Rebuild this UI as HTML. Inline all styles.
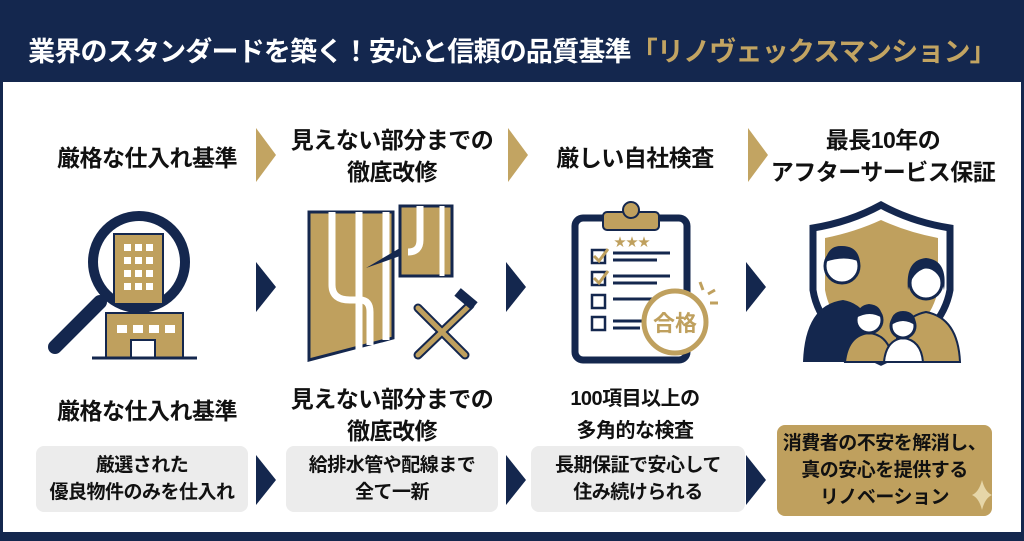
<!DOCTYPE html>
<html><head><meta charset="utf-8"><style>
body{margin:0;width:1024px;height:541px;overflow:hidden;background:#fff;font-family:"Liberation Sans","Noto Sans CJK JP",sans-serif;position:relative}
.hdr{position:absolute;left:0;top:0;width:1024px;height:82px;background:#14274e}
.hdr div{position:absolute;left:0;width:1024px;top:30px;text-align:center;color:#fff;font-size:27px;font-weight:bold;letter-spacing:-0.8px}
.hdr span{color:#c2a462}
.side{position:absolute;top:82px;width:3px;height:452px;background:#14274e}
.foot{position:absolute;left:0;top:532px;width:1024px;height:9px;background:#14274e}
.t{position:absolute;text-align:center;font-weight:bold;color:#111;font-size:23px;line-height:32px;width:260px;letter-spacing:-0.5px}
.b{position:absolute;text-align:center;font-weight:bold;color:#111;font-size:19px;line-height:27px;background:#ececec;border-radius:8px;display:flex;align-items:center;justify-content:center;letter-spacing:-0.5px}
svg{position:absolute;left:0;top:0}
</style></head><body>
<div class="hdr"><div>業界のスタンダードを築く！安心と信頼の品質基準<span>「リノヴェックスマンション」</span></div></div>
<div class="side" style="left:0"></div><div class="side" style="right:0"></div>
<div class="foot"></div>

<div class="t" style="left:17px;top:142px">厳格な仕入れ基準</div>
<div class="t" style="left:262px;top:124px">見えない部分までの<br>徹底改修</div>
<div class="t" style="left:505px;top:142px">厳しい自社検査</div>
<div class="t" style="left:753px;top:124px">最長10年の<br>アフターサービス保証</div>

<div class="t" style="left:17px;top:395px">厳格な仕入れ基準</div>
<div class="t" style="left:262px;top:383px">見えない部分までの<br>徹底改修</div>
<div class="t" style="left:505px;top:383px;font-size:20px">100項目以上の<br>多角的な検査</div>

<div class="b" style="left:36px;top:446px;width:212px;height:66px">厳選された<br>優良物件のみを仕入れ</div>
<div class="b" style="left:286px;top:446px;width:212px;height:66px">給排水管や配線まで<br>全て一新</div>
<div class="b" style="left:531px;top:446px;width:214px;height:66px">長期保証で安心して<br>住み続けられる</div>
<div class="b" style="left:777px;top:425px;width:215px;height:91px;background:#bfa05e;color:#111">消費者の不安を解消し、<br>真の安心を提供する<br>リノベーション</div>

<svg width="1024" height="541">
<g fill="#c2a462">
<polygon points="256,128 276,155 256,182"/>
<polygon points="508,128 528,155 508,182"/>
<polygon points="748,128 768,155 748,182"/>
</g>
<g fill="#14274e">
<polygon points="256,262 276,287 256,312"/>
<polygon points="506,262 526,287 506,312"/>
<polygon points="746,262 766,287 746,312"/>
<polygon points="256,455 276,480 256,505"/>
<polygon points="506,455 526,480 506,505"/>
<polygon points="746,455 766,480 746,505"/>
</g>
<rect x="106" y="313" width="77" height="45" fill="#bfa05e" stroke="#14274e" stroke-width="2"/>
<g fill="#fff"><rect x="117" y="325" width="10" height="8"/><rect x="133" y="325" width="10" height="8"/><rect x="149" y="325" width="10" height="8"/><rect x="165" y="325" width="10" height="8"/><rect x="131" y="340" width="24" height="18" stroke="#14274e" stroke-width="2"/></g>
<line x1="92" y1="358" x2="197" y2="358" stroke="#14274e" stroke-width="3"/>
<circle cx="139" cy="262" r="46" fill="#fff" stroke="#14274e" stroke-width="10"/>
<rect x="114" y="234" width="49" height="70" fill="#bfa05e" stroke="#14274e" stroke-width="2"/>
<g fill="#fff"><rect x="124" y="244" width="7" height="7"/><rect x="135" y="244" width="7" height="7"/><rect x="146" y="244" width="7" height="7"/><rect x="124" y="257" width="7" height="7"/><rect x="135" y="257" width="7" height="7"/><rect x="146" y="257" width="7" height="7"/><rect x="124" y="270" width="7" height="7"/><rect x="135" y="270" width="7" height="7"/><rect x="146" y="270" width="7" height="7"/><rect x="124" y="283" width="7" height="7"/><rect x="135" y="283" width="7" height="7"/><rect x="146" y="283" width="7" height="7"/></g>
<line x1="100" y1="302" x2="55" y2="347" stroke="#14274e" stroke-width="14" stroke-linecap="round"/>
<polygon points="309,212 393,212 393,338 309,360" fill="#bfa05e" stroke="#14274e" stroke-width="3"/>
<g stroke="#fff" stroke-width="7" fill="none"><path d="M332,212 V285 Q332,300 350,300 H360 Q370,300 370,312 V345"/><line x1="359" y1="212" x2="359" y2="352"/><line x1="386" y1="212" x2="386" y2="340"/></g>
<rect x="400" y="206" width="52" height="70" fill="#bfa05e" stroke="#14274e" stroke-width="3"/>
<path d="M420,206 V240 Q420,252 408,252" stroke="#fff" stroke-width="7" fill="none"/>
<line x1="442" y1="206" x2="442" y2="276" stroke="#fff" stroke-width="5"/>
<polygon points="366,268 400,248 400,256" fill="#14274e"/>
<g stroke="#14274e" stroke-width="9" stroke-linecap="round"><line x1="418" y1="308" x2="465" y2="355"/><line x1="470" y1="305" x2="418" y2="355"/></g>
<g stroke="#bfa05e" stroke-width="5" stroke-linecap="round"><line x1="418" y1="308" x2="465" y2="355"/><line x1="468" y1="307" x2="418" y2="355"/></g>
<rect x="455" y="294" width="22" height="10" fill="#14274e" transform="rotate(40 466 299)"/>
<rect x="575" y="218" width="112" height="142" rx="8" fill="#fff" stroke="#14274e" stroke-width="7"/>
<rect x="603" y="212" width="56" height="18" rx="4" fill="#bfa05e" stroke="#14274e" stroke-width="2"/>
<circle cx="631" cy="210" r="8" fill="#bfa05e" stroke="#14274e" stroke-width="2"/>
<text x="614" y="246" fill="#bfa05e" font-size="12">★★★</text>
<g fill="none" stroke="#14274e" stroke-width="2.5"><rect x="592" y="250" width="13" height="13"/><rect x="592" y="272" width="13" height="13"/><rect x="592" y="295" width="13" height="13"/><rect x="592" y="317" width="13" height="13"/></g>
<g stroke="#14274e" stroke-width="3"><line x1="613" y1="253" x2="670" y2="253"/><line x1="613" y1="260" x2="657" y2="260"/><line x1="613" y1="276" x2="670" y2="276"/><line x1="613" y1="283" x2="657" y2="283"/><line x1="613" y1="299" x2="660" y2="299"/><line x1="613" y1="321" x2="650" y2="321"/><line x1="613" y1="328" x2="640" y2="328"/></g>
<path d="M594,256 l5,5 l9,-12 M594,278 l5,5 l9,-12" stroke="#bfa05e" stroke-width="3" fill="none"/>
<circle cx="675" cy="322" r="31" fill="#fff" stroke="#bfa05e" stroke-width="5"/>
<text x="675" y="331" text-anchor="middle" fill="#bfa05e" font-size="22" font-weight="bold">合格</text>
<g stroke="#bfa05e" stroke-width="3"><line x1="700" y1="282" x2="703" y2="290"/><line x1="708" y1="294" x2="715" y2="290"/><line x1="710" y1="303" x2="718" y2="303"/></g>
<path d="M881,205 Q850,222 813,228 V290 Q820,335 881,362 Q942,335 950,290 V228 Q912,222 881,205Z" fill="#fff" stroke="#14274e" stroke-width="7"/>
<path d="M881,220 Q855,232 825,238 V290 Q832,330 881,350 Q930,330 938,290 V238 Q907,232 881,220Z" fill="#bfa05e"/>
<path d="M803,362 Q805,305 843,300 Q875,305 880,362Z" fill="#14274e"/>
<circle cx="842" cy="266" r="17" fill="#fff" stroke="#14274e" stroke-width="3"/>
<path d="M825,262 Q828,245 842,246 Q858,246 860,262 Q845,255 825,262Z" fill="#14274e"/>
<path d="M893,362 Q895,318 926,312 Q958,318 960,362Z" fill="#bfa05e" stroke="#14274e" stroke-width="2"/>
<circle cx="926" cy="283" r="16" fill="#fff" stroke="#14274e" stroke-width="3"/>
<path d="M908,290 Q905,260 926,258 Q948,260 944,290 Q940,270 926,268 Q912,272 908,290Z" fill="#14274e"/>
<path d="M845,362 Q848,335 869,333 Q890,335 893,362Z" fill="#bfa05e" stroke="#14274e" stroke-width="2"/>
<circle cx="869" cy="320" r="13" fill="#fff" stroke="#14274e" stroke-width="3"/>
<path d="M856,318 Q858,305 869,304 Q882,305 882,318 Q870,310 856,318Z" fill="#14274e"/>
<path d="M884,362 Q886,340 903,338 Q921,340 923,362Z" fill="#fff" stroke="#14274e" stroke-width="2"/>
<circle cx="903" cy="326" r="12" fill="#fff" stroke="#14274e" stroke-width="3"/>
<path d="M890,326 Q891,311 903,311 Q916,311 916,326 Q903,316 890,326Z" fill="#14274e"/>
<path d="M982,480 q3,12 10,15 q-7,3 -10,15 q-3,-12 -10,-15 q7,-3 10,-15Z" fill="#e6d6a8"/>
</svg>
</body></html>
